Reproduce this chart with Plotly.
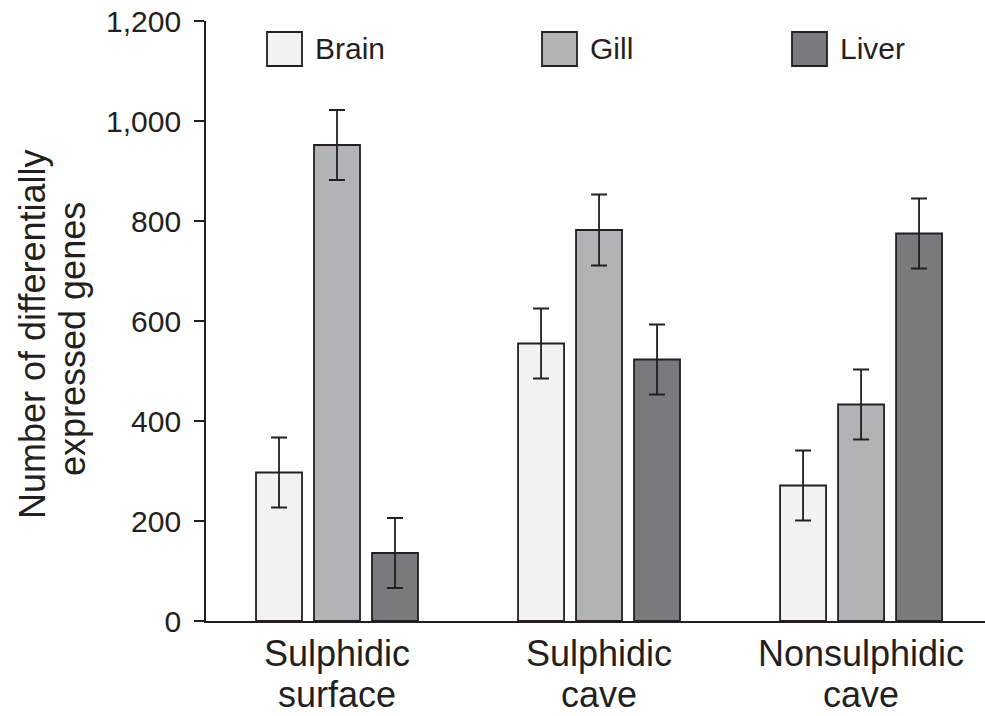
import plotly.graph_objects as go

categories = ["Sulphidic<br>surface", "Sulphidic<br>cave", "Nonsulphidic<br>cave"]
series_names = ["Brain", "Gill", "Liver"]
brain = [297, 555, 271]
gill = [952, 782, 433]
liver = [136, 523, 775]
brain_err = [70, 70, 70]
gill_err = [70, 71, 70]
liver_err = [70, 70, 70]
y_ticks = [0, 200, 400, 600, 800, 1000, 1200]
y_tick_labels = ["0", "200", "400", "600", "800", "1,000", "1,200"]
y_title_lines = ["Number of differentially", "expressed genes"]

colors = ["#f2f2f2", "#b2b3b6", "#797a7e"]
edge = "#231f20"
font_family = "Liberation Sans, Arial, Helvetica, sans-serif"

fig = go.Figure()
for name, vals, errs, col in zip(series_names, [brain, gill, liver],
                                 [brain_err, gill_err, liver_err], colors):
    fig.add_trace(go.Bar(
        name=name, x=categories, y=vals,
        marker=dict(color=col, line=dict(color=edge, width=1.8)),
        error_y=dict(type="data", array=errs, visible=True,
                     color=edge, thickness=1.8, width=8),
        showlegend=False,
    ))

L, T, W, H = 206, 21, 779, 600
def px_x(p):
    return (p - L) / W
def px_y(p):
    return (T + H - p) / H

legend_box_x = [267, 542, 792]
shapes = []
annotations = []
for name, col, bx in zip(series_names, colors, legend_box_x):
    shapes.append(dict(type="rect", xref="paper", yref="paper",
                       x0=px_x(bx), x1=px_x(bx + 35), y0=px_y(66), y1=px_y(32),
                       fillcolor=col, line=dict(color=edge, width=1.8)))
    annotations.append(dict(text=name, xref="paper", yref="paper",
                            x=px_x(bx + 46), y=px_y(49), xanchor="left", yanchor="middle",
                            showarrow=False, font=dict(size=30, color=edge, family=font_family)))

# y-axis title, two lines
for line, cx, cy in zip(y_title_lines, [32, 72], [334, 339]):
    annotations.append(dict(text=line, xref="paper", yref="paper",
                            x=px_x(cx), y=px_y(cy), xanchor="center", yanchor="middle",
                            textangle=-90, showarrow=False,
                            font=dict(size=36, color=edge, family=font_family)))

# category labels, two lines each
for cat in categories:
    parts = cat.split("<br>")
    for part, cy in zip(parts, [653.5, 694.5]):
        annotations.append(dict(text=part, xref="x", yref="paper",
                                x=cat, y=px_y(cy), xanchor="center", yanchor="middle",
                                showarrow=False,
                                font=dict(size=36, color=edge, family=font_family)))

fig.update_layout(
    width=985, height=716,
    margin=dict(l=L, r=0, t=T, b=716 - T - H),
    paper_bgcolor="white", plot_bgcolor="white",
    barmode="group", bargap=0.336, bargroupgap=0.207,
    shapes=shapes, annotations=annotations,
    font=dict(family=font_family, color=edge),
    xaxis=dict(range=[-0.5, 2.473], showline=True, linecolor=edge, linewidth=1.8,
               ticks="", showticklabels=False,
               showgrid=False, zeroline=False),
    yaxis=dict(range=[0, 1200], tickvals=y_ticks, ticktext=y_tick_labels,
               showline=True, linecolor=edge, linewidth=1.8,
               ticks="outside", ticklen=10, tickwidth=1.8, tickcolor=edge,
               ticklabelstandoff=7,
               tickfont=dict(size=30, color=edge),
               showgrid=False, zeroline=False),
)

fig.write_html("out.html", config={"displayModeBar": False},
               post_script="document.body.style.margin='0';")
